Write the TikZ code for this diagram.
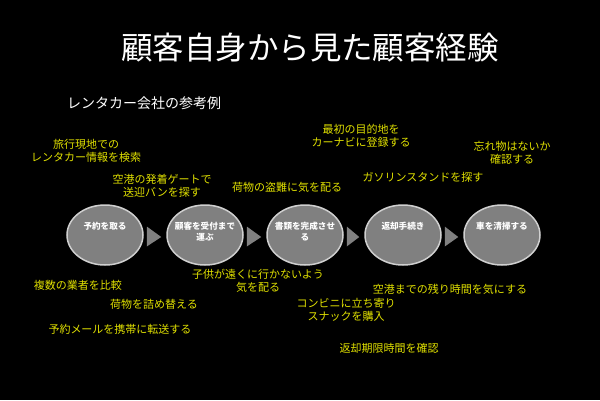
\documentclass[tikz,border=0pt]{standalone}
\usepackage{fontspec}
\setmainfont{Noto Sans CJK JP}
\usetikzlibrary{shapes.geometric,calc}
\definecolor{ytext}{HTML}{E0E000}
\definecolor{egray}{HTML}{808080}
\definecolor{eline}{HTML}{D0D0D0}
\tikzset{
  stepell/.style={ellipse, draw=eline, line width=1.5pt, fill=egray, minimum width=76pt, minimum height=60pt, inner sep=0pt},
  steptxt/.style={anchor=north, text=white, align=center, inner sep=0pt, font=\fontsize{8.6}{10.5}\selectfont\bfseries},
  note/.style={text=ytext, align=center, inner sep=0pt, font=\fontsize{11}{13.5}\selectfont},
  tri/.style={fill=egray, draw=none}
}
\begin{document}
\begin{tikzpicture}[x=1pt,y=-1pt]
\fill[black] (0,0) rectangle (600,400);
\useasboundingbox (0,0) rectangle (600,400);
\node[text=white, inner sep=0pt, font=\fontsize{31.5}{35}\selectfont] (title) at (310,48) {顧客自身から見た顧客経験};
\node[text=white, inner sep=0pt, font=\fontsize{14}{16}\selectfont] (sub) at (144,103) {レンタカー会社の参考例};
% steps
\node[stepell] (e1) at (105,235) {};
\node[stepell] (e2) at (205,235) {};
\node[stepell] (e3) at (305,235) {};
\node[stepell] (e4) at (403,235) {};
\node[stepell] (e5) at (502,235) {};
\node[steptxt] (t1) at (105,222) {予約を取る};
\node[steptxt] (t2) at (205,222) {顧客を受付まで\\運ぶ};
\node[steptxt] (t3) at (305,222) {書類を完成させ\\る};
\node[steptxt] (t4) at (403,222) {返却手続き};
\node[steptxt] (t5) at (502,222) {車を清掃する};
% arrow triangles
\foreach \a/\b in {e1/e2,e2/e3,e3/e4,e4/e5}{
  \fill[tri] ($(\a.east)+(3,-8.5)$) -- ($(\b.west)+(-5,2)$) -- ($(\a.east)+(3,11.5)$) -- cycle;
}
% notes above
\node[note] (n1) at (86,151) {旅行現地での\\レンタカー情報を検索};
\node[note] (n2) at (162,186) {空港の発着ゲートで\\送迎バンを探す};
\node[note] (n3) at (287,187) {荷物の盗難に気を配る};
\node[note] (n4) at (361,136) {最初の目的地を\\カーナビに登録する};
\node[note] (n5) at (423,177) {ガソリンスタンドを探す};
\node[note] (n6) at (512,153) {忘れ物はないか\\確認する};
% notes below
\node[note] (n7) at (78,285) {複数の業者を比較};
\node[note] (n8) at (154,304) {荷物を詰め替える};
\node[note] (n9) at (120,329) {予約メールを携帯に転送する};
\node[note] (n10) at (258,281) {子供が遠くに行かないよう\\気を配る};
\node[note] (n11) at (450,289) {空港までの残り時間を気にする};
\node[note] (n12) at (346,310) {コンビニに立ち寄り\\スナックを購入};
\node[note] (n13) at (389,348) {返却期限時間を確認};
\end{tikzpicture}
\end{document}
